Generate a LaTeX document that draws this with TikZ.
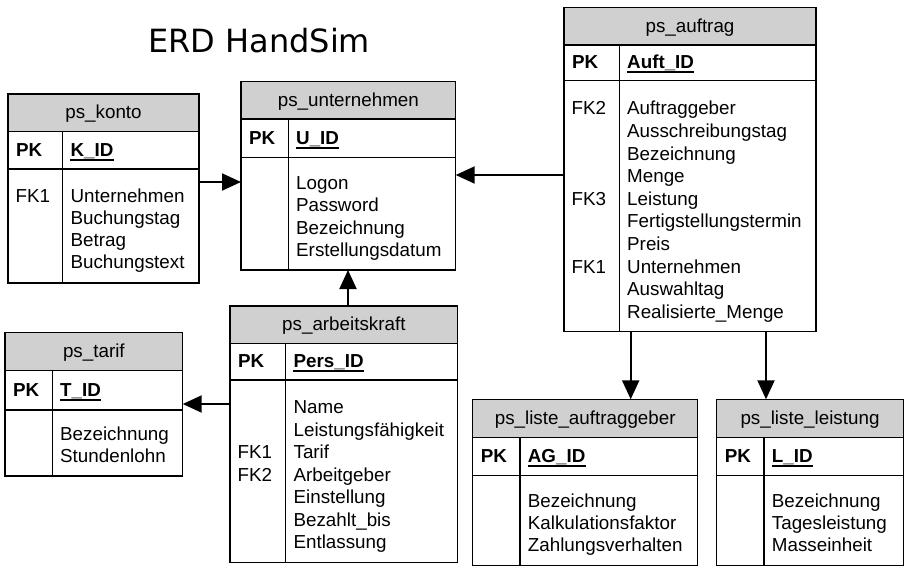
\documentclass[tikz,border=0pt]{standalone}
\usepackage{fontspec}
\setmainfont{Liberation Sans}
\newfontfamily\titlefont{DejaVu Sans}
\usetikzlibrary{arrows.meta,fit}
\definecolor{hdrgray}{RGB}{208,208,208}
\tikzset{
  tbl/.style={line width=1.3pt, draw=black},
  hdr/.style={fill=hdrgray},
  boxframe/.style={draw=black, line width=1.3pt, inner sep=0pt, outer sep=0pt},
  txt/.style={inner sep=0pt, anchor=base west, font=\fontsize{18.8}{22.4}\selectfont},
  ttl/.style={txt, anchor=base},
  pkt/.style={txt, font=\fontsize{18.8}{22.4}\selectfont\bfseries},
  conn/.style={line width=2pt, -{Triangle[length=19pt,width=17pt]}},
  ulline/.style={line width=1.8pt}
}
\newcommand\erdbox[9]{%
  \fill[hdr] (#2,#3) rectangle (#4,#5);
  \draw[tbl] (#2,#5) -- (#4,#5) (#2,#6) -- (#4,#6) (#8,#5) -- (#8,#7);
  \node[boxframe, fit={(#2,#3) (#4,#7)}] (#1) {};
  \node[ttl] (#1-title) at ({(#2+#4)/2},{(#3+#5)/2+6}) {#9};
  \node[pkt] (#1-pk) at ({#2+8},{(#5+#6)/2+6}) {PK};
  \xdef\curdiv{#8}\xdef\curleft{#2}\xdef\curpky{(#5+#6)/2+6}%
}
\newcommand\erdkey[2]{%
  \node[pkt] (#1-key) at ({\curdiv+7.7},{\curpky}) {#2};
  \draw[ulline] ([yshift=-3.5pt]#1-key.base west) -- ([yshift=-3.5pt]#1-key.base east);
}
\newcommand\erdattrs[4]{%
  \foreach \attrname [count=\i] in {#4} {\node[txt] (#1-a\i) at ({\curdiv+7.7},{#2+#3*(\i-1)}) {\attrname};}
}
\newcommand\erdfk[5]{%
  \node[txt] (#1-fk#4) at ({\curleft+7.5},{#2+#3*(#4-1)}) {#5};
}
\begin{document}
\begin{tikzpicture}[x=1pt,y=-1pt]
\useasboundingbox (0,0) rectangle (914,568);

\node[inner sep=0pt, anchor=base west, font=\titlefont\fontsize{32}{38}\selectfont] (title) at (148,52.7) {ERD HandSim};

% ps_konto
\erdbox{konto}{8}{94}{199}{131.7}{169}{283}{62.7}{ps\_konto}
\erdkey{konto}{K\_ID}
\erdattrs{konto}{202.7}{22}{Unternehmen,Buchungstag,Betrag,Buchungstext}
\erdfk{konto}{202.7}{22}{1}{FK1}

% ps_unternehmen
\erdbox{unternehmen}{241}{81.7}{455.7}{119}{157.3}{270}{288.3}{ps\_unternehmen}
\erdkey{unternehmen}{U\_ID}
\erdattrs{unternehmen}{189.5}{22.4}{Logon,Password,Bezeichnung,Erstellungsdatum}

% ps_auftrag
\erdbox{auftrag}{564}{7.3}{816}{45}{80.7}{331.7}{619.3}{ps\_auftrag}
\erdkey{auftrag}{Auft\_ID}
\erdattrs{auftrag}{114.8}{22.6}{Auftraggeber,Ausschreibungstag,Bezeichnung,Menge,Leistung,Fertigstellungstermin,Preis,Unternehmen,Auswahltag,Realisierte\_Menge}
\erdfk{auftrag}{114.8}{22.6}{1}{FK2}
\erdfk{auftrag}{114.8}{22.6}{5}{FK3}
\erdfk{auftrag}{114.8}{22.6}{8}{FK1}

% ps_tarif
\erdbox{tarif}{5}{332.7}{182.7}{370.7}{410}{476}{52.3}{ps\_tarif}
\erdkey{tarif}{T\_ID}
\erdattrs{tarif}{440.5}{22}{Bezeichnung,Stundenlohn}

% ps_arbeitskraft
\erdbox{arbeitskraft}{230}{306}{457.7}{343.3}{380}{562.3}{285.7}{ps\_arbeitskraft}
\erdkey{arbeitskraft}{Pers\_ID}
\erdattrs{arbeitskraft}{413.8}{22.45}{Name,Leistungsfähigkeit,Tarif,Arbeitgeber,Einstellung,Bezahlt\_bis,Entlassung}
\erdfk{arbeitskraft}{413.8}{22.45}{3}{FK1}
\erdfk{arbeitskraft}{413.8}{22.45}{4}{FK2}

% ps_liste_auftraggeber
\erdbox{listeag}{472.7}{399.3}{697.7}{437.3}{475.3}{565.3}{520}{ps\_liste\_auftraggeber}
\erdkey{listeag}{AG\_ID}
\erdattrs{listeag}{507.2}{22.2}{Bezeichnung,Kalkulationsfaktor,Zahlungsverhalten}

% ps_liste_leistung
\erdbox{listel}{716.7}{399.3}{903.3}{437.3}{475.3}{565.3}{764}{ps\_liste\_leistung}
\erdkey{listel}{L\_ID}
\erdattrs{listel}{507.2}{22.2}{Bezeichnung,Tagesleistung,Masseinheit}

% connector guides
\coordinate (ykonto) at (0,182);
\coordinate (yauftrag) at (0,175);
\coordinate (xarbeit) at (348,0);
\coordinate (ytarif) at (0,404);
\coordinate (xag) at (630.7,0);
\coordinate (xl) at (766,0);

\draw[conn] (konto.east |- ykonto) -- (unternehmen.west |- ykonto);
\draw[conn] (auftrag.west |- yauftrag) -- (unternehmen.east |- yauftrag);
\draw[conn] (arbeitskraft.north -| xarbeit) -- (unternehmen.south -| xarbeit);
\draw[conn] (arbeitskraft.west |- ytarif) -- (tarif.east |- ytarif);
\draw[conn] (auftrag.south -| xag) -- (listeag.north -| xag);
\draw[conn] (auftrag.south -| xl) -- (listel.north -| xl);
\end{tikzpicture}
\end{document}
